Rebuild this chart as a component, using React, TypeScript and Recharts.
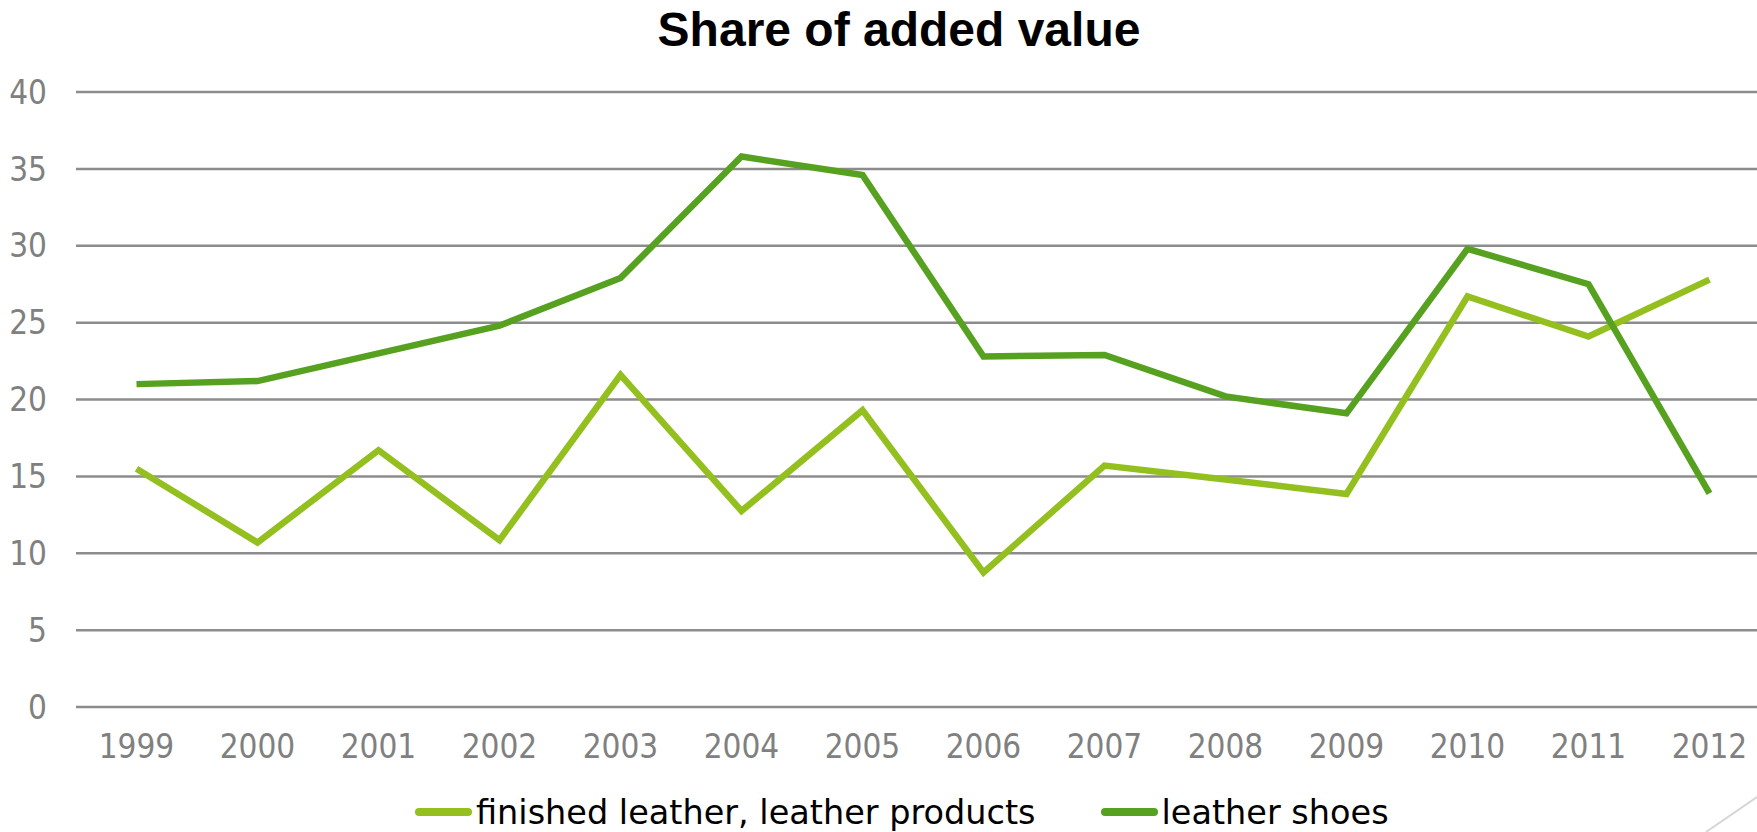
import { CartesianGrid, Legend, Line, LineChart, XAxis, YAxis } from "recharts"

const years = ["1999", "2000", "2001", "2002", "2003", "2004", "2005", "2006", "2007", "2008", "2009", "2010", "2011", "2012"]
const finishedLeather = [15.5, 10.7, 16.7, 10.85, 21.6, 12.75, 19.3, 8.75, 15.7, 14.8, 13.85, 26.7, 24.1, 27.8]
const leatherShoes = [21.0, 21.2, 23.0, 24.8, 27.9, 35.8, 34.6, 22.8, 22.9, 20.2, 19.1, 29.8, 27.5, 13.9]
const yTicks = [0, 5, 10, 15, 20, 25, 30, 35, 40]

const seriesNames = ["finished leather, leather products", "leather shoes"]
const colors = ["#93C01F", "#57A121"]

const data = years.map((y, i) => ({
    year: y,
    finished: finishedLeather[i],
    shoes: leatherShoes[i],
}))

const tickFont = "'Liberation Sans Narrow', 'DejaVu Sans Condensed', sans-serif"

function ChartLegend() {
    return (
        <div style={{ display: "flex", alignItems: "center", height: 40, paddingLeft: 415, gap: 65, fontFamily: "'DejaVu Sans', sans-serif", fontSize: 33.5, color: "#000" }}>
            {seriesNames.map((n, i) => (
                <div key={n} style={{ display: "flex", alignItems: "center" }}>
                    <span style={{ display: "inline-block", width: 57, height: 8, borderRadius: 4, background: colors[i], marginRight: 4 }} />
                    <span style={{ whiteSpace: "nowrap" }}>{n}</span>
                </div>
            ))}
        </div>
    )
}

export default function App() {
    return (
        <div style={{ position: "absolute", left: 0, top: 0, width: 1757, height: 832, overflow: "hidden", background: "#fff" }}>
            <div style={{ position: "absolute", left: 0, top: 6, width: 1798, textAlign: "center", fontFamily: "'Liberation Sans', Arial, sans-serif", fontWeight: "bold", fontSize: 48, lineHeight: "48px", color: "#000" }}>
                Share of added value
            </div>
            <LineChart width={1770} height={832} data={data} margin={{ top: 92, right: 0, bottom: 0, left: 0 }}>
                <CartesianGrid vertical={false} stroke="#8c8c8c" strokeWidth={2.5} />
                <XAxis
                    dataKey="year"
                    axisLine={false}
                    tickLine={false}
                    tickSize={0}
                    tickMargin={28}
                    height={85}
                    interval={0}
                    padding={{ left: 60.5, right: 60.5 }}
                    tick={{ fill: "#808080", fontSize: 33, fontFamily: tickFont }}
                />
                <YAxis
                    domain={[0, 40]}
                    ticks={yTicks}
                    axisLine={false}
                    tickLine={false}
                    tickSize={0}
                    tickMargin={29}
                    width={76}
                    interval={0}
                    tick={{ fill: "#808080", fontSize: 33, fontFamily: tickFont }}
                />
                <Legend verticalAlign="bottom" height={40} content={() => <ChartLegend />} />
                <Line type="linear" dataKey="finished" name={seriesNames[0]} stroke={colors[0]} strokeWidth={6.5} dot={false} isAnimationActive={false} />
                <Line type="linear" dataKey="shoes" name={seriesNames[1]} stroke={colors[1]} strokeWidth={6.5} dot={false} isAnimationActive={false} />
            </LineChart>
            <svg style={{ position: "absolute", left: 0, top: 0 }} width={1757} height={832}>
                <line x1={1706} y1={832} x2={1757} y2={797} stroke="#d6d6d6" strokeWidth={2} />
            </svg>
        </div>
    )
}
